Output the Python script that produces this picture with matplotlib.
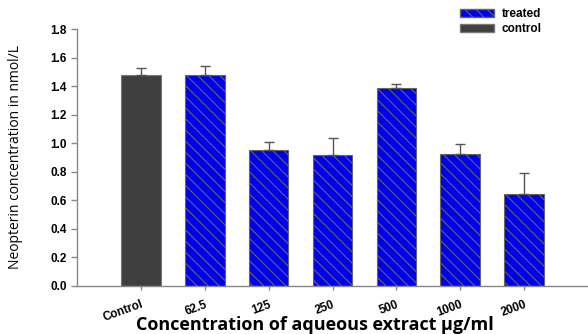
import matplotlib
matplotlib.use("Agg")
import matplotlib.pyplot as plt
import matplotlib.patches as mpatches

categories = ["Control", "62.5", "125", "250", "500", "1000", "2000"]
values = [1.478, 1.478, 0.955, 0.915, 1.384, 0.922, 0.644]
errors = [0.05, 0.06, 0.05, 0.12, 0.03, 0.07, 0.15]
groups = ["control", "treated", "treated", "treated", "treated", "treated", "treated"]
yticks = [0.0, 0.2, 0.4, 0.6, 0.8, 1.0, 1.2, 1.4, 1.6, 1.8]

plt.rcParams['hatch.color'] = '#5a5a8c'
plt.rcParams['hatch.linewidth'] = 0.8

fig = plt.figure(figsize=(5.88, 3.34), dpi=100)
ax = fig.add_axes([0.131, 0.144, 0.869, 0.769])

x = list(range(len(categories)))
for xi, v, g in zip(x, values, groups):
    if g == "control":
        ax.bar(xi, v, width=0.62, color='#3f3f3f', edgecolor='#777777', linewidth=0.8, zorder=2)
    else:
        ax.bar(xi, v, width=0.62, color='#0000ee', edgecolor='#666666', linewidth=0.8,
               hatch='\\\\\\', zorder=2)
ax.errorbar(x, values, yerr=[[0]*len(values), errors], fmt='none', ecolor='#555555',
            elinewidth=1.0, capsize=3.5, capthick=1.0, zorder=3)

ax.set_xlim(-1.0, 7.0)
ax.set_ylim(0, 1.8)
ax.set_yticks(yticks)
ax.set_yticklabels([f"{t:.1f}" for t in yticks], fontsize=8.5, fontweight='bold',
                   family='Liberation Sans')
ax.set_xticks(x)
ax.set_xticklabels(categories, rotation=20, fontsize=8.5, fontweight='bold',
                   family='Liberation Sans', ha='right', rotation_mode='anchor')
for s in ['top', 'right']:
    ax.spines[s].set_visible(False)
for s in ['left', 'bottom']:
    ax.spines[s].set_color('#888888')
    ax.spines[s].set_linewidth(1.0)
ax.tick_params(axis='both', colors='#888888', length=4, width=1.0, labelcolor='black')
ax.tick_params(axis='x', length=3, pad=6)

ax.set_ylabel("Neopterin concentration in nmol/L", fontsize=10, family='Open Sans')
ax.yaxis.set_label_coords(-0.105, 0.5)
ax.set_xlabel("Concentration of aqueous extract μg/ml", fontsize=13, fontweight='bold',
              family='Open Sans', va='center')
ax.xaxis.set_label_coords(0.466, -0.152)

handles = [mpatches.Patch(facecolor='#0000ee', edgecolor='#666666', hatch='\\\\\\', label='treated'),
           mpatches.Patch(facecolor='#3f3f3f', edgecolor='#777777', label='control')]
leg = fig.legend(handles=handles, loc='upper left', bbox_to_anchor=(452/588, 1.0),
                 frameon=False, prop={'family': 'Liberation Sans', 'weight': 'bold', 'size': 8.5},
                 handlelength=2.9, handleheight=0.6, handletextpad=0.6, labelspacing=0.25,
                 borderpad=0.2)

fig.savefig("out.png", dpi=100)
